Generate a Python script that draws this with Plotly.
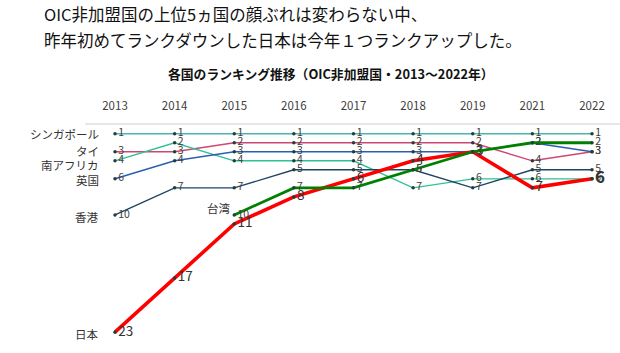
import plotly.graph_objects as go

years = ["2013", "2014", "2015", "2016", "2017", "2018", "2019", "2021", "2022"]

singapore = [1, 1, 1, 1, 1, 1, 1, 1, 1]
thailand = [3, 3, 2, 2, 2, 2, 2, 4, 3]
south_africa = [4, 2, 4, 4, 4, 7, 6, 6, 6]
uk = [6, 4, 3, 3, 3, 3, 3, 2, 3]
hong_kong = [10, 7, 7, 5, 5, 5, 7, 5, 5]
taiwan = [None, None, 10, 7, 7, 5, 3, 2, 2]
japan = [23, 17, 11, 8, 6, 4, 3, 7, 6]

names = ["シンガポール", "タイ", "南アフリカ", "英国", "香港", "台湾", "日本"]

FONT = "Noto Sans CJK JP"
W, H = 620, 353
xs = list(range(len(years)))

# pixel mapping helpers for the layout
x_lo, x_hi = -1.9287, 8.4696
y_top_px = 113
y_top_val, y_bot_val = -1.3, 25.31

fig = go.Figure()

def add(vals, color, width, name, tsize=10.5, tcolor="#404040", bold_last=False):
    txt = [("" if v is None else str(v)) for v in vals]
    if bold_last:
        txt[-1] = "<b>" + txt[-1] + "</b>"
    sizes = [tsize] * len(vals)
    if bold_last:
        sizes[-1] = 16.5
    fig.add_trace(go.Scatter(
        x=xs, y=vals, mode="lines+markers+text", name=name,
        line=dict(color=color, width=width),
        marker=dict(size=3.5, color="#1f4040"),
        text=txt, textposition="middle right",
        textfont=dict(family=FONT, size=sizes, color=tcolor),
        connectgaps=False, cliponaxis=False, showlegend=False,
    ))

add(singapore, "#4bb5ae", 1.6, names[0])
add(thailand, "#cf4670", 1.4, names[1])
add(south_africa, "#2fc097", 1.4, names[2])
add(uk, "#2b5fb0", 1.6, names[3])
add(hong_kong, "#1f4462", 1.4, names[4])
add(japan, "#ff0000", 3.6, names[6], tsize=13.5, tcolor="#333333", bold_last=True)
add(taiwan, "#008000", 2.8, names[5])

# light gray separator line
fig.add_shape(type="line", xref="paper", yref="paper",
              x0=85 / W, x1=1, y0=1 - 124 / H, y1=1 - 124 / H,
              line=dict(color="#e6e6e6", width=2))

# left-side country labels
left = [(names[0], singapore[0], 0), (names[1], thailand[0], 1), (names[2], south_africa[0], -4),
        (names[3], uk[0], -1), (names[4], hong_kong[0], -2), (names[6], japan[0], -2)]
for n, v, ys in left:
    fig.add_annotation(x=101 / W, xref="paper", y=v, yref="y", text=n,
                       xanchor="right", yanchor="middle", showarrow=False, yshift=ys,
                       font=dict(family=FONT, size=11.5, color="#333333"))

fig.add_annotation(x=2, xref="x", y=10, yref="y", text=names[5], xanchor="right",
                   yanchor="middle", showarrow=False, xshift=-1, yshift=7,
                   font=dict(family=FONT, size=11.5, color="#333333"))

# headline
fig.add_annotation(x=42 / W, xref="paper", y=1 - 14 / H, yref="paper",
                   text="OIC非加盟国の上位5ヵ国の顔ぶれは変わらない中、",
                   xanchor="left", yanchor="middle", showarrow=False,
                   font=dict(family=FONT, size=16.5, color="#111111"))
fig.add_annotation(x=42 / W, xref="paper", y=1 - 40 / H, yref="paper",
                   text="昨年初めてランクダウンした日本は今年１つランクアップした。",
                   xanchor="left", yanchor="middle", showarrow=False,
                   font=dict(family=FONT, size=16.5, color="#111111"))
# chart title
fig.add_annotation(x=331 / W, xref="paper", y=1 - 73 / H, yref="paper",
                   text="<b>各国のランキング推移（OIC非加盟国・2013～2022年）</b>",
                   xanchor="center", yanchor="middle", showarrow=False,
                   font=dict(family=FONT, size=12.8, color="#111111"))

fig.update_layout(
    width=W, height=H, margin=dict(l=0, r=0, t=0, b=0),
    paper_bgcolor="white", plot_bgcolor="white",
    xaxis=dict(range=[x_lo, x_hi], domain=[0, 1], side="top", tickmode="array",
               tickvals=xs, ticktext=years, showgrid=False, zeroline=False,
               showline=False, ticks="",
               tickfont=dict(family=FONT, size=11.5, color="#404040")),
    yaxis=dict(range=[y_bot_val, y_top_val], domain=[0, 1 - y_top_px / H],
               showgrid=False, zeroline=False, showticklabels=False, showline=False),
)

fig.write_html("out.html")
